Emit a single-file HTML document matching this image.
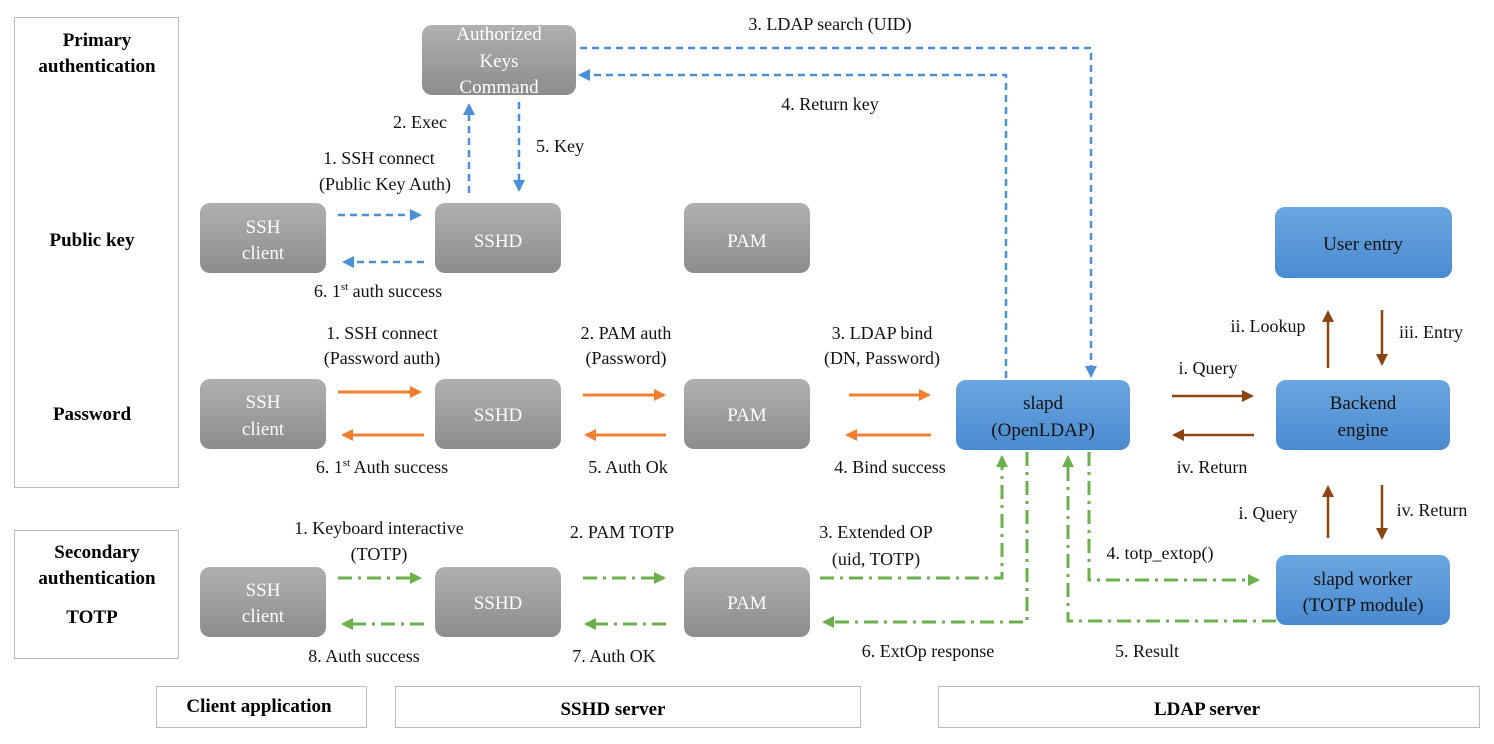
<!DOCTYPE html>
<html><head><meta charset="utf-8"><style>
html,body{margin:0;padding:0;background:#fff;}
svg{display:block;font-family:"Liberation Serif",serif;}
</style></head><body>
<svg width="1494" height="744" viewBox="0 0 1494 744" xmlns="http://www.w3.org/2000/svg">
<defs>
<linearGradient id="g" x1="0" y1="0" x2="0" y2="1"><stop offset="0" stop-color="#b0b0b0"/><stop offset="1" stop-color="#8c8c8c"/></linearGradient>
<linearGradient id="b" x1="0" y1="0" x2="0" y2="1"><stop offset="0" stop-color="#6aa6e0"/><stop offset="1" stop-color="#4a8bd0"/></linearGradient>
<marker id="ab" markerWidth="14" markerHeight="14" refX="10" refY="6" orient="auto" markerUnits="userSpaceOnUse"><path d="M0,0 L12,6 L0,12z" fill="#4a90d9"/></marker>
<marker id="ao" markerWidth="14" markerHeight="14" refX="10" refY="6" orient="auto" markerUnits="userSpaceOnUse"><path d="M0,0 L12,6 L0,12z" fill="#f07f30"/></marker>
<marker id="ar" markerWidth="14" markerHeight="14" refX="10" refY="6" orient="auto" markerUnits="userSpaceOnUse"><path d="M0,0 L12,6 L0,12z" fill="#8b4513"/></marker>
<marker id="ag" markerWidth="14" markerHeight="14" refX="10" refY="6" orient="auto" markerUnits="userSpaceOnUse"><path d="M0,0 L12,6 L0,12z" fill="#6ab04c"/></marker>
</defs>
<g fill="none" stroke="#bbb" stroke-width="1">
<rect x="14.5" y="17.5" width="164" height="470"/>
<rect x="14.5" y="530.5" width="164" height="128"/>
<rect x="156.5" y="686.5" width="210" height="41"/>
<rect x="395.5" y="686.5" width="465" height="41"/>
<rect x="938.5" y="686.5" width="541" height="41"/>
</g>
<g font-weight="bold" font-size="19" text-anchor="middle" fill="#000">
<text x="97" y="46">Primary</text><text x="97" y="72">authentication</text>
<text x="92" y="246">Public key</text>
<text x="92" y="420">Password</text>
<text x="97" y="558">Secondary</text><text x="97" y="584">authentication</text>
<text x="92" y="623">TOTP</text>
<text x="259" y="712">Client application</text>
<text x="613" y="715">SSHD server</text>
<text x="1207" y="715">LDAP server</text>
</g>
<g fill="url(#g)">
<rect x="422" y="25" width="154" height="70" rx="10"/>
<rect x="200" y="203" width="126" height="70" rx="10"/><rect x="435" y="203" width="126" height="70" rx="10"/><rect x="684" y="203" width="126" height="70" rx="10"/>
<rect x="200" y="379" width="126" height="70" rx="10"/><rect x="435" y="379" width="126" height="70" rx="10"/><rect x="684" y="379" width="126" height="70" rx="10"/>
<rect x="200" y="567" width="126" height="70" rx="10"/><rect x="435" y="567" width="126" height="70" rx="10"/><rect x="684" y="567" width="126" height="70" rx="10"/>
</g>
<g fill="url(#b)">
<rect x="956" y="380" width="174" height="70" rx="10"/>
<rect x="1276" y="380" width="174" height="70" rx="10"/>
<rect x="1275" y="207" width="177" height="71" rx="10"/>
<rect x="1276" y="555" width="174" height="70" rx="10"/>
</g>
<g fill="#fff" font-size="19" text-anchor="middle">
<text x="499" y="40">Authorized</text><text x="499" y="67">Keys</text><text x="499" y="93">Command</text>
<text x="263" y="233">SSH</text><text x="263" y="259">client</text><text x="498" y="247">SSHD</text><text x="747" y="247">PAM</text>
<text x="263" y="408">SSH</text><text x="263" y="435">client</text><text x="498" y="421">SSHD</text><text x="747" y="421">PAM</text>
<text x="263" y="596">SSH</text><text x="263" y="622">client</text><text x="498" y="609">SSHD</text><text x="747" y="609">PAM</text>
</g>
<g fill="#111" font-size="19" text-anchor="middle">
<text x="1043" y="409">slapd</text><text x="1043" y="436">(OpenLDAP)</text>
<text x="1363" y="409">Backend</text><text x="1363" y="436">engine</text>
<text x="1363" y="250">User entry</text>
<text x="1363" y="585">slapd worker</text><text x="1363" y="611">(TOTP module)</text>
</g>
<g stroke="#4a90d9" stroke-width="2.5" fill="none" stroke-dasharray="7,5">
<path d="M338,215 H420" marker-end="url(#ab)"/>
<path d="M424,262 H344" marker-end="url(#ab)"/>
<path d="M469,193 V105" marker-end="url(#ab)"/>
<path d="M519,102 V190" marker-end="url(#ab)"/>
<path d="M580,48 H1091 V376" marker-end="url(#ab)"/>
<path d="M1006,378 V75 H580" marker-end="url(#ab)"/>
</g>
<g stroke="#f07f30" stroke-width="3" fill="none">
<path d="M338,392 H420" marker-end="url(#ao)"/><path d="M424,435 H343" marker-end="url(#ao)"/>
<path d="M583,395 H664" marker-end="url(#ao)"/><path d="M666,435 H586" marker-end="url(#ao)"/>
<path d="M849,395 H929" marker-end="url(#ao)"/><path d="M931,435 H847" marker-end="url(#ao)"/>
</g>
<g stroke="#8b4513" stroke-width="2.5" fill="none">
<path d="M1172,396 H1252" marker-end="url(#ar)"/><path d="M1254,435 H1174" marker-end="url(#ar)"/>
<path d="M1328,368 V312" marker-end="url(#ar)"/><path d="M1382,310 V364" marker-end="url(#ar)"/>
<path d="M1328,538 V487" marker-end="url(#ar)"/><path d="M1382,485 V538" marker-end="url(#ar)"/>
</g>
<g stroke="#6ab04c" stroke-width="3" fill="none" stroke-dasharray="14,6,3,6">
<path d="M338,578 H420" marker-end="url(#ag)"/><path d="M424,624 H343" marker-end="url(#ag)"/>
<path d="M583,578 H664" marker-end="url(#ag)"/><path d="M666,624 H586" marker-end="url(#ag)"/>
<path d="M820,578 H1002 V457" marker-end="url(#ag)"/>
<path d="M1027,452 V622 H824" marker-end="url(#ag)"/>
<path d="M1089,452 V580 H1258" marker-end="url(#ag)"/>
<path d="M1276,621 H1068 V457" marker-end="url(#ag)"/>
</g>
<g fill="#111" font-size="18" text-anchor="middle">
<text x="830" y="30">3. LDAP search (UID)</text>
<text x="830" y="110">4. Return key</text>
<text x="420" y="128">2. Exec</text>
<text x="560" y="152">5. Key</text>
<text x="379" y="164">1. SSH connect</text><text x="385" y="190">(Public Key Auth)</text>
<text x="378" y="297">6. 1<tspan font-size="11" dy="-7">st</tspan><tspan dy="7"> auth success</tspan></text>
<text x="382" y="339">1. SSH connect</text><text x="382" y="364">(Password auth)</text>
<text x="626" y="339">2. PAM auth</text><text x="626" y="364">(Password)</text>
<text x="882" y="339">3. LDAP bind</text><text x="882" y="364">(DN, Password)</text>
<text x="382" y="473">6. 1<tspan font-size="11" dy="-7">st</tspan><tspan dy="7"> Auth success</tspan></text>
<text x="628" y="473">5. Auth Ok</text>
<text x="890" y="473">4. Bind success</text>
<text x="1208" y="374">i. Query</text>
<text x="1212" y="473">iv. Return</text>
<text x="1268" y="332">ii. Lookup</text>
<text x="1431" y="338">iii. Entry</text>
<text x="1268" y="519">i. Query</text>
<text x="1432" y="516">iv. Return</text>
<text x="379" y="534">1. Keyboard interactive</text><text x="379" y="560">(TOTP)</text>
<text x="622" y="538">2. PAM TOTP</text>
<text x="876" y="538">3. Extended OP</text><text x="876" y="565">(uid, TOTP)</text>
<text x="1160" y="559">4. totp_extop()</text>
<text x="364" y="662">8. Auth success</text>
<text x="614" y="662">7. Auth OK</text>
<text x="928" y="657">6. ExtOp response</text>
<text x="1147" y="657">5. Result</text>
</g>
</svg>
</body></html>
